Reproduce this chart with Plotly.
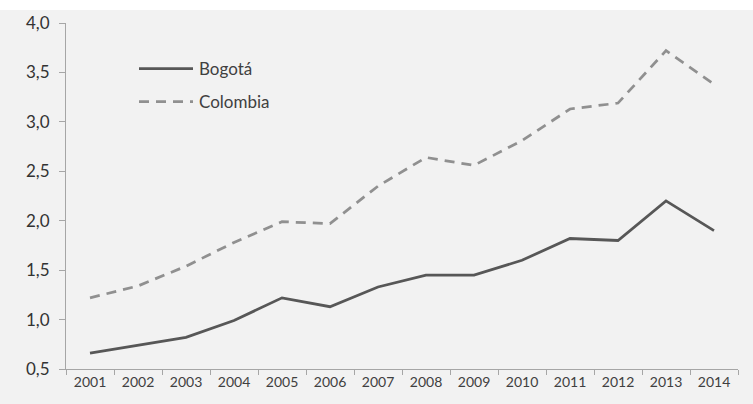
import plotly.graph_objects as go

years = ["2001", "2002", "2003", "2004", "2005", "2006", "2007",
         "2008", "2009", "2010", "2011", "2012", "2013", "2014"]
bogota = [0.66, 0.74, 0.82, 0.99, 1.22, 1.13, 1.33, 1.45, 1.45, 1.60, 1.82, 1.80, 2.20, 1.90]
colombia = [1.22, 1.34, 1.54, 1.78, 1.99, 1.97, 2.35, 2.64, 2.56, 2.81, 3.13, 3.19, 3.72, 3.38]
series_names = ["Bogotá", "Colombia"]

col_bog = "#575757"
col_col = "#909090"
dash_col = "10px,7px"

fig = go.Figure()
fig.add_trace(go.Scatter(x=years, y=bogota, name=series_names[0], mode="lines",
                         line=dict(color=col_bog, width=2.75)))
fig.add_trace(go.Scatter(x=years, y=colombia, name=series_names[1], mode="lines",
                         line=dict(color=col_col, width=2.75, dash=dash_col)))

font = "Lato, 'Open Sans', sans-serif"

# manual legend (long line samples like the original)
W, H = 753, 404
ml, mr, mt, mb = 66, 15, 21, 35
pw, ph = W - ml - mr, H - mt - mb
def px(x):
    return (x - ml) / pw
def py(y):
    return (H - mb - y) / ph

shapes = [dict(type="rect", xref="paper", yref="paper", x0=px(-10), x1=px(W + 10),
               y0=py(8), y1=py(-10), fillcolor="white", line=dict(width=0), layer="below")]
annotations = []
for i, (name, c, d) in enumerate([(series_names[0], col_bog, "solid"),
                                   (series_names[1], col_col, dash_col)]):
    yy = 67 + 33 * i
    shapes.append(dict(type="line", xref="paper", yref="paper", x0=px(139), x1=px(193),
                       y0=py(yy), y1=py(yy), line=dict(color=c, width=2.75, dash=d)))
    annotations.append(dict(text=name, xref="paper", yref="paper", x=px(197), y=py(yy),
                            xanchor="left", yanchor="middle", showarrow=False,
                            font=dict(size=17, color="#404040", family=font)))

fig.update_layout(
    width=W, height=H,
    margin=dict(l=ml, r=mr, t=mt, b=mb),
    paper_bgcolor="#f2f2f2", plot_bgcolor="#f2f2f2",
    separators=",.",
    font=dict(family=font, color="#404040", size=14),
    showlegend=False,
    xaxis=dict(type="category", showgrid=False, showline=True, linecolor="#a6a6a6",
               linewidth=1, ticks="outside", tickson="boundaries", ticklen=5,
               tickcolor="#a6a6a6", tickfont=dict(size=14), zeroline=False,
               range=[-0.5, 13.5]),
    yaxis=dict(range=[0.5, 4.0], dtick=0.5, tick0=0.5, tickformat=".1f",
               showgrid=False, showline=True, linecolor="#a6a6a6", linewidth=1,
               ticks="outside", ticklen=6, tickcolor="#a6a6a6",
               tickfont=dict(size=17, color="#333333"), zeroline=False,
               ticklabelstandoff=6),
    shapes=shapes,
    annotations=annotations,
)
fig.write_html("out.html", config={"displayModeBar": False},
               post_script="document.body.style.margin='0';document.body.style.background='#f2f2f2';")
